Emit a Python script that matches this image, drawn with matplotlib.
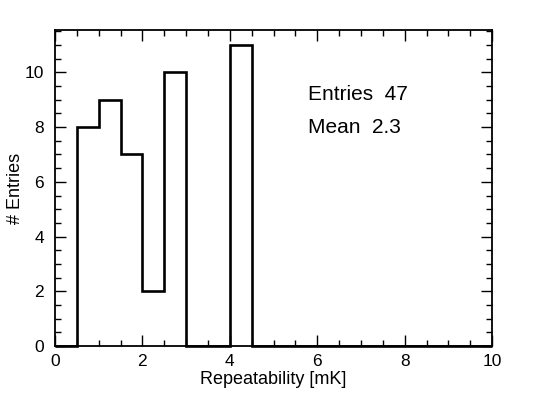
import matplotlib
matplotlib.use("Agg")
import matplotlib.pyplot as plt
import numpy as np
from matplotlib.ticker import MultipleLocator

plt.rcParams["font.family"] = ["Liberation Sans", "DejaVu Sans"]

bin_edges = np.arange(0, 10.5, 0.5)
counts = [0, 8, 9, 7, 2, 10, 0, 0, 11, 0,
          0, 0, 0, 0, 0, 0, 0, 0, 0, 0]
n_entries = 47
mean_value = 2.3

fig = plt.figure(figsize=(5.48, 3.96), dpi=100)
ax = fig.add_axes([0.1004, 0.1263, 0.7976, 0.7979])

ax.stairs(counts, bin_edges, color="black", linewidth=1.9, baseline=0,
          clip_on=False, zorder=3)

ax.set_xlim(0, 10)
ax.set_ylim(0, 11.55)
ax.xaxis.set_major_locator(MultipleLocator(2))
ax.xaxis.set_minor_locator(MultipleLocator(0.5))
ax.yaxis.set_major_locator(MultipleLocator(2))
ax.yaxis.set_minor_locator(MultipleLocator(0.5))
ax.tick_params(which="both", direction="in", top=True, right=True, labelsize=12.5, width=1)
ax.tick_params(which="major", length=8)
ax.tick_params(which="minor", length=4)
ax.tick_params(axis="x", which="major", pad=6)
ax.tick_params(axis="y", which="major", pad=8)
for s in ax.spines.values():
    s.set_linewidth(1.3)

ax.set_xlabel("Repeatability [mK]", fontsize=13)
ax.xaxis.set_label_coords(0.5, -0.078)
ax.set_ylabel("# Entries", fontsize=13)
ax.yaxis.set_label_coords(-0.072, 0.5)

ax.text(5.79, 9.19, f"Entries  {n_entries}", fontsize=15, va="center", ha="left")
ax.text(5.79, 7.99, f"Mean  {mean_value}", fontsize=15, va="center", ha="left")

fig.savefig("out.png", dpi=100)
